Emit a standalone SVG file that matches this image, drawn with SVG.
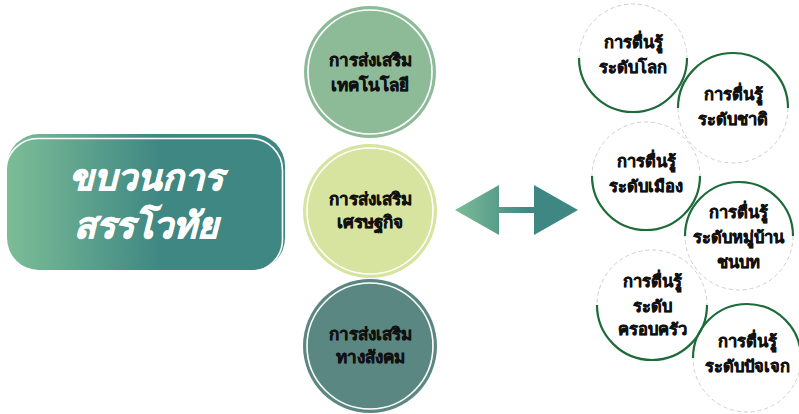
<svg xmlns="http://www.w3.org/2000/svg" width="799" height="414" viewBox="0 0 799 414">
<defs>
<linearGradient id="boxGrad" x1="0" y1="0" x2="1" y2="0">
<stop offset="0" stop-color="#7cbd97"/>
<stop offset="0.55" stop-color="#3f8783"/>
<stop offset="1" stop-color="#3f8783"/>
</linearGradient>
<linearGradient id="arrGrad" gradientUnits="userSpaceOnUse" x1="455" y1="0" x2="578" y2="0">
<stop offset="0" stop-color="#7cbd97"/>
<stop offset="0.6" stop-color="#3f8783"/>
<stop offset="1" stop-color="#3f8783"/>
</linearGradient>
<style>
text{font-family:"Noto Sans","DejaVu Sans",sans-serif;font-weight:bold;text-anchor:middle}
.big{font-size:36px;fill:#ffffff;stroke:#ffffff;stroke-width:0.8;font-style:italic}
.mid{font-size:17px;fill:#111111;stroke:#111111;stroke-width:0.5}
.sm{font-size:16.5px;fill:#111111;stroke:#111111;stroke-width:0.5}
.inner{fill:none;stroke:#ffffff;stroke-width:1.6}
.dash{fill:none;stroke:#cfcfcf;stroke-width:1;stroke-dasharray:4 3}
.solid{fill:none;stroke:#1d6b38;stroke-width:2.2}
</style>
</defs>

<g id="main-box">
<rect x="7" y="134" width="278" height="136" rx="32" fill="url(#boxGrad)"/>
<rect x="6" y="138.5" width="276.5" height="133" rx="32" fill="none" stroke="#ffffff" stroke-width="1.6"/>
<text class="big" x="146" y="190">ขบวนการ</text>
<text class="big" x="146" y="238">สรรโวทัย</text>
</g>

<g id="circle-tech">
<circle cx="370" cy="72" r="66" fill="#8dbb97"/>
<circle class="inner" cx="370" cy="72" r="62"/>
<text class="mid" x="370" y="66">การส่งเสริม</text>
<text class="mid" x="370" y="91">เทคโนโลยี</text>
</g>

<g id="circle-econ">
<circle cx="370" cy="211" r="67" fill="#d6e49f"/>
<circle class="inner" cx="370" cy="211" r="63"/>
<text class="mid" x="370" y="205">การส่งเสริม</text>
<text class="mid" x="370" y="228">เศรษฐกิจ</text>
</g>

<g id="circle-social">
<circle cx="370" cy="346" r="67" fill="#5b8783"/>
<circle class="inner" cx="370" cy="346" r="63"/>
<text class="mid" x="370" y="340">การส่งเสริม</text>
<text class="mid" x="370" y="363">ทางสังคม</text>
</g>

<g id="connectors">
<path d="M455 210 L499 185 L499 207 L534 207 L534 185 L578 210 L534 235 L534 213 L499 213 L499 235 Z" fill="url(#arrGrad)"/>
</g>

<g id="aware-world">
<circle class="dash" cx="633" cy="58" r="54"/>
<path class="solid" d="M579 58 A54 54 0 0 0 687 58"/>
<text class="sm" x="633" y="48">การตื่นรู้</text>
<text class="sm" x="633" y="73">ระดับโลก</text>
</g>

<g id="aware-nation">
<circle class="dash" cx="733" cy="108" r="55"/>
<path class="solid" d="M678 108 A55 55 0 0 1 788 108"/>
<text class="sm" x="733" y="100">การตื่นรู้</text>
<text class="sm" x="733" y="125">ระดับชาติ</text>
</g>

<g id="aware-city">
<circle class="dash" cx="646" cy="176" r="54"/>
<path class="solid" d="M592 176 A54 54 0 0 0 700 176"/>
<text class="sm" x="646" y="167">การตื่นรู้</text>
<text class="sm" x="646" y="192">ระดับเมือง</text>
</g>

<g id="aware-village">
<circle class="dash" cx="739" cy="236" r="54"/>
<path class="solid" d="M685 236 A54 54 0 0 1 793 236"/>
<text class="sm" x="738" y="218">การตื่นรู้</text>
<text class="sm" x="738" y="243">ระดับหมู่บ้าน</text>
<text class="sm" x="738" y="268">ชนบท</text>
</g>

<g id="aware-family">
<circle class="dash" cx="652" cy="305" r="55"/>
<path class="solid" d="M597 305 A55 55 0 0 0 707 305"/>
<text class="sm" x="652" y="287">การตื่นรู้</text>
<text class="sm" x="652" y="312">ระดับ</text>
<text class="sm" x="652" y="335">ครอบครัว</text>
</g>

<g id="aware-individual">
<circle class="dash" cx="747" cy="358" r="54"/>
<path class="solid" d="M693 358 A54 54 0 0 1 801 358"/>
<text class="sm" x="747" y="347">การตื่นรู้</text>
<text class="sm" x="747" y="372">ระดับปัจเจก</text>
</g>
</svg>
